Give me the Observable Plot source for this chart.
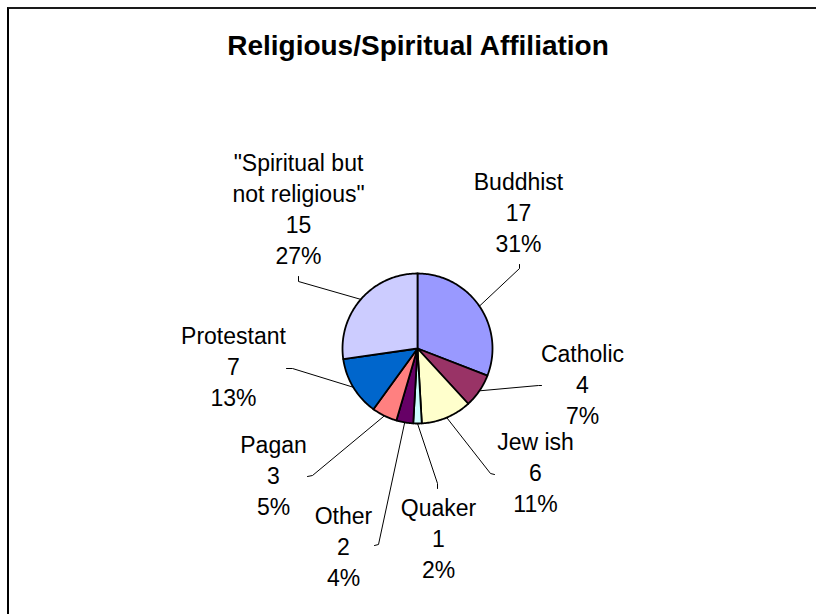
<!DOCTYPE html>
<html>
<head>
<meta charset="utf-8">
<script src="https://cdn.jsdelivr.net/npm/d3@7"></script>
<script src="https://cdn.jsdelivr.net/npm/@observablehq/plot@0.6"></script>
<style>
  html, body { margin: 0; padding: 0; background: #fff; }
  #wrap { position: relative; width: 816px; height: 614px; overflow: hidden; background: #fff; }
  #frame { position: absolute; left: 7px; top: 7px; width: 900px; height: 700px;
           border-top: 2px solid #1a1a1a; border-left: 2px solid #000; }
  #title { position: absolute; left: 0; width: 836px; top: 32px; text-align: center;
           font: bold 28px "Liberation Sans", Arial, sans-serif; line-height: 27px; color: #000; }
  #chart { position: absolute; left: 0; top: 0; }
</style>
</head>
<body>
<div id="wrap">
  <div id="frame"></div>
  <div id="title">Religious/Spiritual Affiliation</div>
  <div id="chart"></div>
</div>
<script>
// ---- data ----
const categories = ["Buddhist", "Catholic", "Jew ish", "Quaker", "Other", "Pagan", "Protestant", "\"Spiritual but\nnot religious\""];
const counts = [17, 4, 6, 1, 2, 3, 7, 15];
const colors = ["#9999FF", "#993366", "#FFFFCC", "#CCFFFF", "#660066", "#FF8080", "#0066CC", "#CCCCFF"];

// ---- layout (pixels of the picture) ----
const W = 816, H = 614, CX = 417, CY = 348, R = 75;
// label block centres
const labelPos = [[518, 211], [582, 383], [535, 471], [438, 537], [343, 545], [273, 474], [233, 365], [298, 207]];
// leader line elbow and end
const leaderPts = [
  [[519, 268], [519, 264]],
  [[538, 385], [541, 385]],
  [[490, 473], [494, 474]],
  [[437, 483], [437, 488]],
  [[378, 544], [374, 545]],
  [[312, 475], [307, 476]],
  [[292, 368], [286, 368]],
  [[298, 281], [298, 276]]
];
const toX = px => (px - CX) / R;
const toY = py => (CY - py) / R;

const total = d3.sum(counts);
let cum = 0;
const slices = counts.map((v, i) => {
  const a0 = cum / total * 2 * Math.PI;
  cum += v;
  const a1 = cum / total * 2 * Math.PI;
  return {name: categories[i], value: v, a0, a1, color: colors[i], i};
});

// wedge outlines (angles clockwise from top, unit radius)
const marks = [];
for (const s of slices) {
  const pts = [{x: 0, y: 0}];
  const n = Math.max(2, Math.ceil((s.a1 - s.a0) / (Math.PI / 180)));
  for (let k = 0; k <= n; k++) {
    const a = s.a0 + (s.a1 - s.a0) * k / n;
    pts.push({x: Math.sin(a), y: Math.cos(a)});
  }
  pts.push({x: 0, y: 0});
  marks.push(Plot.line(pts, {x: "x", y: "y", fill: s.color, stroke: "#000", strokeWidth: 1.8, strokeLinejoin: "round"}));
}

// leader lines
const leaders = [];
slices.forEach((s, i) => {
  const am = (s.a0 + s.a1) / 2;
  leaders.push({k: i, x: Math.sin(am), y: Math.cos(am)});
  for (const p of leaderPts[i]) leaders.push({k: i, x: toX(p[0]), y: toY(p[1])});
});
marks.push(Plot.line(leaders, {x: "x", y: "y", z: "k", stroke: "#000", strokeWidth: 1}));

// labels
const labels = slices.map((s, i) => ({
  x: toX(labelPos[i][0]),
  y: toY(labelPos[i][1]),
  text: `${s.name}\n${s.value}\n${Math.round(s.value / total * 100)}%`
}));
marks.push(Plot.text(labels, {
  x: "x", y: "y", text: "text", fontSize: 23, lineHeight: 31 / 23,
  textAnchor: "middle", lineAnchor: "middle", fill: "#000",
  fontFamily: "Liberation Sans, Arial, sans-serif"
}));

const chart = Plot.plot({
  width: W, height: H,
  margin: 0,
  x: {domain: [toX(0), toX(W)], axis: null},
  y: {domain: [toY(H), toY(0)], axis: null},
  style: {background: "transparent", overflow: "visible"},
  marks
});
document.getElementById("chart").appendChild(chart);
</script>
</body>
</html>
